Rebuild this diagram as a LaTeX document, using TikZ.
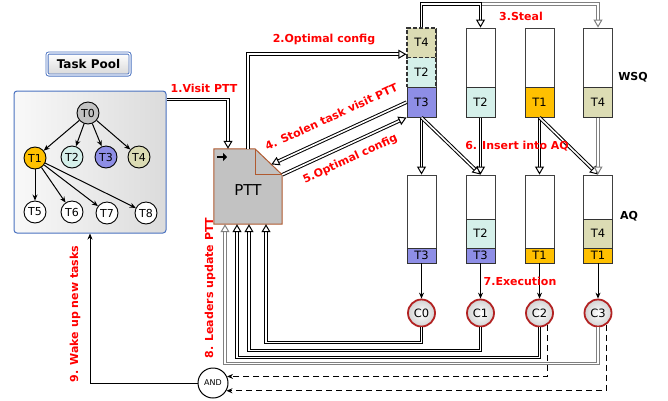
\documentclass[tikz,border=0pt]{standalone}
\usepackage{fontspec}
\setmainfont{DejaVu Sans}
\usetikzlibrary{arrows.meta,calc}

\definecolor{tyellow}{HTML}{FFC000}
\definecolor{tcyan}{HTML}{D5F0EA}
\definecolor{tblue}{HTML}{8E8EE6}
\definecolor{tkhaki}{HTML}{DCDCB4}
\definecolor{tgrey}{HTML}{C2C2C2}
\definecolor{pttbrown}{HTML}{B05A30}
\definecolor{cred}{HTML}{B22222}
\definecolor{poolblue}{HTML}{4A72C0}

\tikzset{
  task/.style={circle, draw, line width=0.9pt, minimum size=22pt, inner sep=0pt, font=\fontsize{11}{11}\selectfont},
  cell/.style={draw=black!80, line width=0.9pt, minimum width=29pt, inner sep=0pt, font=\fontsize{11.5}{11.5}\selectfont},
  wcell/.style={cell, minimum height=29.7pt},
  acell/.style={cell, minimum height=15pt},
  dcell/.style={wcell, line width=1.2pt, dash pattern=on 4pt off 2pt},
  queue/.style={draw=black!75, line width=0.9pt, fill=white, minimum width=29pt, inner sep=0pt},
  core/.style={circle, draw=cred, line width=1.8pt, inner color=white, outer color=gray!35, minimum size=27pt, inner sep=0pt, font=\fontsize{11.5}{11.5}\selectfont},
  dbl/.style={draw=black, line width=1pt, double=white, double distance=1.6pt, -{Triangle[length=8pt,width=9pt,fill=white,line width=1pt]}},
  dblg/.style={dbl, draw=gray},
  lbl/.style={text=red, font=\bfseries\fontsize{11}{11}\selectfont},
  qlbl/.style={font=\bfseries\fontsize{11}{11}\selectfont},
  tip/.style={-{Stealth[length=6pt,width=5pt]}, line width=1pt}
}

\begin{document}
\begin{tikzpicture}[x=1pt,y=-1pt]
\fill[white] (0,0) rectangle (668,400);
\useasboundingbox (0,0) rectangle (668,400);

% Task pool
\node[draw=poolblue, double, line width=0.9pt, double distance=1.2pt, rounded corners=2pt, top color=white, bottom color=gray!30, minimum width=83pt, minimum height=22pt, font=\bfseries\fontsize{12}{12}\selectfont] (poolhead) at (88.5,64) {Task Pool};
\node[draw=poolblue, line width=1pt, rounded corners=3pt, left color=gray!5, right color=gray!28, minimum width=152pt, minimum height=142pt] (pool) at (90,162) {};

\node[task, fill=tgrey] (t0) at (88,113) {T0};
\node[task, fill=tyellow] (t1) at (35,158) {T1};
\node[task, fill=tcyan] (t2) at (72,157) {T2};
\node[task, fill=tblue] (t3) at (106,157) {T3};
\node[task, fill=tkhaki] (t4) at (139,157) {T4};
\node[task, fill=white] (t5) at (35,212) {T5};
\node[task, fill=white] (t6) at (72,212) {T6};
\node[task, fill=white] (t7) at (107,213) {T7};
\node[task, fill=white] (t8) at (146,213) {T8};

\foreach \n in {t1,t2,t3,t4}
  \draw[tip] (t0) -- (\n);
\foreach \n in {t5,t6,t7,t8}
  \draw[tip] (t1) -- (\n);

% PTT
\node[minimum width=68pt, minimum height=75pt, inner sep=0pt] (ptt) at (248,186.5) {};
\coordinate (pttA) at ([xshift=7pt]ptt.north);
\coordinate (pttB) at ([yshift=-26pt]ptt.north east);
\draw[draw=pttbrown, line width=1pt, fill=tgrey] (ptt.south west) -- (ptt.north west) -- (pttA) -- (pttB) -- (ptt.south east) -- cycle;
\draw[draw=pttbrown, line width=1pt] (pttA) |- (pttB);
\draw[line width=2.5pt, -{Triangle[length=4pt,width=8pt]}] (217,157) -- (227,157);
\node[font=\fontsize{15}{15}\selectfont] (pttlabel) at ([yshift=-4pt]ptt.center) {PTT};

% Work stealing queues
\node[queue, minimum height=89pt] (q1) at (421.5,72.5) {};
\node[queue, minimum height=89pt] (q2) at (480.5,72.5) {};
\node[queue, minimum height=89pt] (q3) at (539.5,72.5) {};
\node[queue, minimum height=89pt] (q4) at (598,72.5) {};

\node[dcell, fill=tkhaki] (w1a) at (421.5,42.8) {T4};
\node[dcell, fill=tcyan] (w1b) at (421.5,72.5) {T2};
\node[wcell, fill=tblue] (w1c) at (421.5,102.2) {T3};
\node[wcell, fill=tcyan] (w2) at (480.5,102.2) {T2};
\node[wcell, fill=tyellow] (w3) at (539.5,102.2) {T1};
\node[wcell, fill=tkhaki] (w4) at (598,102.2) {T4};

\node[qlbl] (wsq) at (633,77) {WSQ};

% Assigned queues
\node[queue, minimum height=88pt] (a1) at (421.5,219) {};
\node[queue, minimum height=88pt] (a2) at (480.5,219) {};
\node[queue, minimum height=88pt] (a3) at (539.5,219) {};
\node[queue, minimum height=88pt] (a4) at (598,219) {};

\node[acell, fill=tblue] (b1) at (421.5,255.5) {T3};
\node[wcell, minimum height=29pt, fill=tcyan] (m2) at (480.5,233.5) {T2};
\node[acell, fill=tblue] (b2) at (480.5,255.5) {T3};
\node[acell, fill=tyellow] (b3) at (539.5,255.5) {T1};
\node[wcell, minimum height=29pt, fill=tkhaki] (m4) at (598,233.5) {T4};
\node[acell, fill=tyellow] (b4) at (598,255.5) {T1};

\node[qlbl] (aq) at (629,216) {AQ};

% Cores
\node[core] (c0) at (421.5,313) {C0};
\node[core] (c1) at (480.5,313) {C1};
\node[core] (c2) at (539.5,313) {C2};
\node[core] (c3) at (598,313) {C3};

\node[circle, draw, fill=white, line width=1pt, minimum size=30pt, inner sep=0pt, font=\fontsize{8}{8}\selectfont] (and) at (213,383) {AND};

% Steps
\coordinate (st) at (480.5,4);
\draw[dbl] ([yshift=-9pt]pool.north east) -| ([xshift=-20pt]ptt.north);
\draw[dbl] (ptt.north) |- ([yshift=4pt]w1a.south west);
\draw[dblg] (st) -| (q4.north);
\draw[dbl] (w1a.north) |- (st) -- (q2.north);
\draw[dbl] (w1c.west) -- ($(pttA)!0.6!(pttB)$) node[lbl, midway, above=10pt, sloped] (lbl4) {4. Stolen task visit PTT};
\draw[dbl] (pttB) -- (w1c.south west) node[lbl, midway, below=5pt, sloped] (lbl5) {5.Optimal config};

\draw[dbl] (w1c.south) -- (a1.north);
\draw[dbl] (w1c.south) -- (a2.north);
\draw[dbl] (w2.south) -- (a2.north);
\draw[dbl] (w3.south) -- (a3.north);
\draw[dbl] (w3.south) -- (a4.north);
\draw[dblg] (w4.south) -- (a4.north);

\draw[tip] (a1.south) -- (c0);
\draw[tip] (a2.south) -- (c1);
\draw[tip] (a3.south) -- (c2);
\draw[tip] (a4.south) -- (c3);

\draw[dbl] (c0.south) -- ++(0,15) -| ([xshift=18pt]ptt.south);
\draw[dbl] (c1.south) -- ++(0,23) -| ([xshift=1pt]ptt.south);
\draw[dbl] (c2.south) -- ++(0,30) -| ([xshift=-11pt]ptt.south);
\draw[dblg] (c3.south) -- ++(0,36) -| ([xshift=-23pt]ptt.south);

\draw[tip, line width=1.2pt, dash pattern=on 6pt off 4pt] (c2.-55) |- (and.25);
\draw[tip, line width=1.2pt, dash pattern=on 6pt off 4pt] (c3.-55) |- (and.-30);
\draw[tip] (and.west) -| (pool.south);

% Labels
\node[lbl] (lbl1) at (204,88) {1.Visit PTT};
\node[lbl] (lbl2) at (324,40) {2.Optimal config};
\node[lbl] (lbl3) at (521,16) {3.Steal};
\node[lbl] (lbl6) at (517,146) {6. Insert into AQ};
\node[lbl] (lbl7) at (520,281) {7.Execution};
\node[lbl, rotate=90] (lbl8) at (210,288) {8. Leaders update PTT};
\node[lbl, rotate=90] (lbl9) at (75,314) {9. Wake up new tasks};

\end{tikzpicture}
\end{document}
